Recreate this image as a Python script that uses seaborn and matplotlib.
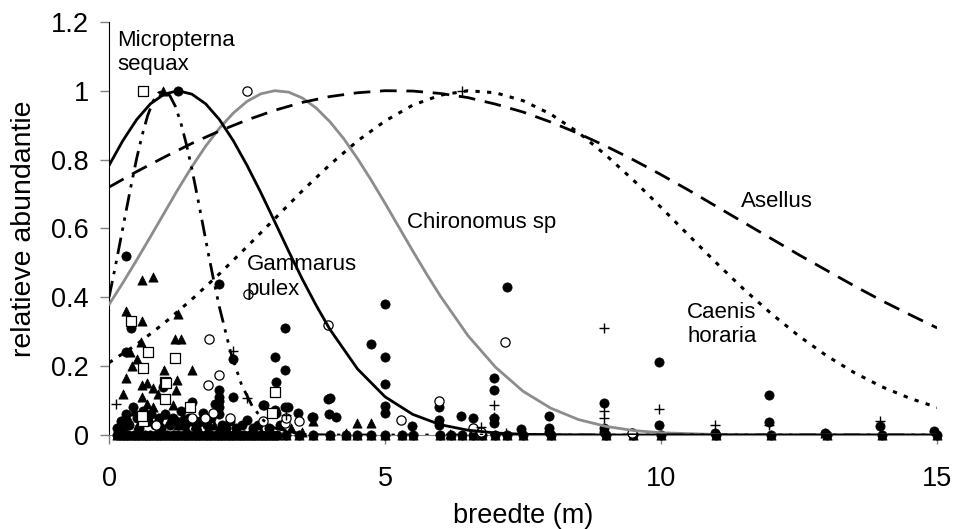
import matplotlib
matplotlib.use('Agg')
import matplotlib.pyplot as plt
import seaborn as sns

# curves (breedte in m, relatieve abundantie)
gammarus_x = [0, 0.25, 0.5, 0.75, 1.0, 1.25, 1.5, 1.75, 2.0, 2.25, 2.5, 2.75, 3.0, 3.25,
              3.5, 3.75, 4.0, 4.5, 5.0, 5.5, 6.0, 6.5, 7.0, 7.5, 8.0, 9.0, 10, 12, 15]
gammarus_y = [0.783, 0.855, 0.916, 0.962, 0.990, 1.0, 0.990, 0.962, 0.916, 0.855, 0.783,
              0.704, 0.620, 0.535, 0.453, 0.377, 0.307, 0.192, 0.111, 0.060, 0.030, 0.014,
              0.006, 0.002, 0.001, 0, 0, 0, 0]

chironomus_x = [0, 0.25, 0.5, 0.75, 1.0, 1.25, 1.5, 1.75, 2.0, 2.25, 2.5, 2.75, 3.0, 3.25,
                3.5, 3.75, 4.0, 4.25, 4.5, 4.75, 5.0, 5.25, 5.5, 5.75, 6.0, 6.5, 7.0, 7.5,
                8.0, 8.5, 9.0, 9.5, 10, 11, 12, 13, 15]
chironomus_y = [0.379, 0.442, 0.508, 0.576, 0.645, 0.714, 0.779, 0.839, 0.891, 0.935, 0.969,
                0.991, 1.0, 0.996, 0.979, 0.950, 0.910, 0.861, 0.803, 0.740, 0.673, 0.604,
                0.535, 0.468, 0.404, 0.289, 0.197, 0.127, 0.078, 0.045, 0.025, 0.013,
                0.0065, 0.0014, 0.0002, 0, 0]

asellus_x = [0, 0.5, 1, 1.5, 2, 2.5, 3, 3.5, 4, 4.5, 5, 5.5, 6, 6.5, 7, 7.5, 8, 8.5, 9,
             9.5, 10, 10.5, 11, 11.5, 12, 12.5, 13, 13.5, 14, 14.5, 15]
asellus_y = [0.720, 0.765, 0.807, 0.847, 0.883, 0.915, 0.943, 0.966, 0.983, 0.994, 1.0,
             0.999, 0.992, 0.980, 0.961, 0.938, 0.909, 0.876, 0.839, 0.799, 0.756, 0.711,
             0.664, 0.617, 0.570, 0.523, 0.478, 0.433, 0.390, 0.350, 0.311]

caenis_x = [0, 0.5, 1, 1.5, 2, 2.5, 3, 3.5, 4, 4.5, 5, 5.5, 6, 6.5, 7, 7.5, 8, 8.5, 9,
            9.5, 10, 10.5, 11, 11.5, 12, 12.5, 13, 13.5, 14, 14.5, 15]
caenis_y = [0.210, 0.263, 0.325, 0.394, 0.468, 0.547, 0.628, 0.709, 0.785, 0.854, 0.912,
            0.958, 0.987, 1.0, 0.994, 0.971, 0.932, 0.879, 0.813, 0.740, 0.661, 0.580,
            0.500, 0.423, 0.352, 0.287, 0.230, 0.181, 0.140, 0.107, 0.080]

micropterna_x = [0, 0.1, 0.2, 0.3, 0.4, 0.5, 0.6, 0.7, 0.8, 0.9, 1.0, 1.1, 1.2, 1.3, 1.4,
                 1.5, 1.6, 1.7, 1.8, 1.9, 2.0, 2.2, 2.4, 2.6, 2.8, 3.0, 3.5, 4.0, 5, 10, 15]
micropterna_y = [0.400, 0.478, 0.560, 0.643, 0.725, 0.803, 0.871, 0.928, 0.970, 0.994, 1.0,
                 0.986, 0.955, 0.907, 0.845, 0.773, 0.693, 0.610, 0.526, 0.446, 0.371,
                 0.242, 0.146, 0.082, 0.042, 0.020, 0.002, 0, 0, 0, 0]

# observations (filled circles)
gammarus_obs_x = [1.25, 0.30, 1.99, 0.40, 0.30, 2.25, 0.97, 2.25, 3.0, 3.18, 3.18, 3.03, 2.8,
                  3.0, 3.18, 3.96, 3.7, 4.99, 4.75, 4.99, 4.99, 4.0, 4.99, 4.99, 7.2, 6.98,
                  6.98, 6.98, 6.98, 5.98, 5.98, 5.98, 6.38, 6.59, 5.48, 7.47, 7.97, 7.97,
                  7.97, 8.97, 8.97, 8.97, 9.96, 9.96, 11.96, 11.96, 10.97, 13.96, 14.95,
                  12.97, 1.99, 1.99, 1.99, 1.99,
                  0.15, 0.22, 0.3, 0.36, 0.43, 0.5, 0.55, 0.62, 0.7, 0.76, 0.83, 0.9, 0.95,
                  1.02, 1.1, 1.15, 1.22, 1.3, 1.38, 1.45, 1.5, 1.58, 1.65, 1.7, 1.78, 1.85,
                  1.92, 1.99, 2.05, 2.12, 2.2, 2.3, 2.4, 2.49, 2.6, 2.7, 2.79, 2.9, 3.03,
                  3.1, 3.24, 3.42, 3.68, 3.98, 4.12]
gammarus_obs_y = [1.0, 0.52, 0.44, 0.31, 0.24, 0.22, 0.14, 0.11, 0.227, 0.31, 0.19, 0.153,
                  0.087, 0.073, 0.08, 0.105, 0.053, 0.38, 0.265, 0.227, 0.149, 0.108, 0.085,
                  0.065, 0.43, 0.165, 0.13, 0.05, 0.035, 0.08, 0.045, 0.03, 0.055, 0.05,
                  0.026, 0.016, 0.055, 0.02, 0.01, 0.094, 0.02, 0.01, 0.213, 0.03, 0.115,
                  0.039, 0.006, 0.025, 0.012, 0.005, 0.13, 0.1, 0.08, 0.06,
                  0.02, 0.04, 0.06, 0.03, 0.08, 0.05, 0.02, 0.07, 0.04, 0.06, 0.03, 0.05,
                  0.02, 0.06, 0.03, 0.05, 0.04, 0.07, 0.03, 0.05, 0.097, 0.02, 0.04, 0.064,
                  0.03, 0.05, 0.09, 0.11, 0.03, 0.02, 0.04, 0.02, 0.03, 0.044, 0.02, 0.03,
                  0.087, 0.02, 0.064, 0.03, 0.08, 0.064, 0.053, 0.06, 0.053]

# open circles
chironomus_obs_x = [2.5, 2.51, 1.81, 1.99, 1.79, 3.96, 3.18, 5.29, 5.98, 6.59, 6.74, 7.18,
                    9.48, 1.88, 1.74, 2.19, 2.79, 3.21, 3.44, 0.85, 1.5]
chironomus_obs_y = [1.0, 0.41, 0.28, 0.175, 0.146, 0.32, 0.035, 0.044, 0.1, 0.02, 0.008,
                    0.27, 0.005, 0.064, 0.05, 0.05, 0.04, 0.05, 0.04, 0.03, 0.05]

# open squares
asellus_obs_x = [0.61, 0.39, 0.70, 0.61, 1.19, 1.01, 1.01, 0.61, 1.46, 3.0, 2.96, 0.59, 1.04]
asellus_obs_y = [1.0, 0.33, 0.24, 0.195, 0.225, 0.155, 0.105, 0.04, 0.08, 0.126, 0.065,
                 0.056, 0.15]

# filled triangles
micropterna_obs_x = [0.98, 0.60, 0.80, 0.30, 0.6, 1.25, 1.19, 1.30, 0.38, 0.58, 0.5, 0.41,
                     1.0, 1.51, 0.30, 0.6, 0.69, 0.79, 0.89, 1.24, 1.21, 0.25, 0.6, 0.69,
                     0.26, 0.45, 0.8, 1.0, 1.16, 1.35, 1.6, 4.75, 4.49, 3.7, 4.29, 6.17,
                     12.97,
                     0.2, 0.28, 0.35, 0.52, 0.68, 0.75, 0.88, 0.95, 1.08, 1.25, 1.33, 1.4,
                     1.48, 1.55, 1.62, 1.7, 1.8, 1.9, 2.0, 2.1, 2.35, 2.55, 2.75, 2.95, 3.3,
                     3.5]
micropterna_obs_y = [1.0, 0.45, 0.46, 0.36, 0.33, 0.35, 0.28, 0.28, 0.24, 0.27, 0.22, 0.20,
                     0.19, 0.19, 0.167, 0.144, 0.15, 0.137, 0.12, 0.16, 0.13, 0.12, 0.11,
                     0.09, 0.05, 0.07, 0.08, 0.06, 0.087, 0.05, 0.04, 0.036, 0.035, 0.04,
                     0.005, 0.003, 0.005,
                     0.03, 0.02, 0.05, 0.03, 0.06, 0.04, 0.05, 0.03, 0.04, 0.03, 0.05, 0.02,
                     0.04, 0.03, 0.02, 0.04, 0.02, 0.03, 0.02, 0.02, 0.01, 0.01, 0.01, 0.01,
                     0.02, 0.01]

# plus signs
caenis_obs_x = [6.4, 0.12, 2.25, 2.5, 3.2, 6.98, 6.98, 6.74, 7.19, 8.97, 8.97, 8.97, 9.96,
                10.97, 11.96, 13.96]
caenis_obs_y = [1.0, 0.09, 0.243, 0.108, 0.058, 0.087, 0.053, 0.024, 0.007, 0.31, 0.07, 0.05,
                0.075, 0.03, 0.03, 0.04]

# sites where the species were (nearly) absent
nul_breedte = [0.15, 0.25, 0.35, 0.45, 0.55, 0.65, 0.75, 0.85, 0.95, 1.05, 1.15, 1.25, 1.35,
               1.45, 1.55, 1.65, 1.75, 1.85, 1.95, 2.05, 2.15, 2.25, 2.35, 2.45, 2.55, 2.65,
               2.75, 2.85, 2.95, 3.05, 3.2, 3.45, 3.7, 4.0, 4.3, 4.5, 4.75, 5.0, 5.3, 5.5,
               6.0, 6.2, 6.4, 6.6, 6.75, 7.0, 7.2, 7.5, 8.0, 9.0, 9.5, 10.0, 11.0, 12.0,
               13.0, 14.0, 15.0]

labels = ['Micropterna\nsequax', 'Gammarus\npulex', 'Chironomus sp', 'Asellus',
          'Caenis\nhoraria']
label_x = [0.15, 2.49, 5.39, 11.45, 10.47]
label_y = [1.11, 0.459, 0.618, 0.679, 0.321]


def main():
    sns.set_style('white')
    plt.rcParams['font.family'] = ['Liberation Sans', 'DejaVu Sans']
    plt.rcParams['text.color'] = 'black'
    plt.rcParams['axes.labelcolor'] = 'black'
    plt.rcParams['xtick.labelcolor'] = 'black'
    plt.rcParams['ytick.labelcolor'] = 'black'
    fig = plt.figure(figsize=(9.54, 5.29), dpi=100)
    ax = fig.add_axes([0.1143, 0.1777, 0.868, 0.781])

    pts = dict(ax=ax, s=44, clip_on=False, zorder=3, legend=False)
    zeros = [0] * len(nul_breedte)
    sns.scatterplot(x=nul_breedte, y=zeros, marker='o', color='black', edgecolor='black', **pts)
    sns.scatterplot(x=nul_breedte, y=zeros, marker='^', color='black', edgecolor='black', **pts)
    sns.scatterplot(x=gammarus_obs_x, y=gammarus_obs_y, marker='o', color='black',
                    edgecolor='black', **pts)
    sns.scatterplot(x=micropterna_obs_x, y=micropterna_obs_y, marker='^', color='black',
                    edgecolor='black', **pts)
    sns.scatterplot(x=chironomus_obs_x, y=chironomus_obs_y, marker='o', color='white',
                    edgecolor='black', linewidth=0.9, **pts)
    sns.scatterplot(x=asellus_obs_x, y=asellus_obs_y, marker='s', color='white',
                    edgecolor='black', linewidth=0.9, **pts)
    sns.scatterplot(x=caenis_obs_x, y=caenis_obs_y, marker='+', color='black',
                    linewidth=1.0, **pts)

    line = dict(ax=ax, errorbar=None, legend=False, zorder=4)
    sns.lineplot(x=chironomus_x, y=chironomus_y, color='#8c8c8c', linewidth=2.0, **line)
    sns.lineplot(x=asellus_x, y=asellus_y, color='black', linewidth=2.0,
                 linestyle=(0, (6, 3.5)), **line)
    sns.lineplot(x=caenis_x, y=caenis_y, color='black', linewidth=2.2,
                 linestyle=(0, (1.4, 2.4)), **line)
    sns.lineplot(x=micropterna_x, y=micropterna_y, color='black', linewidth=2.0,
                 linestyle=(0, (6, 2.5, 1.2, 2.5, 1.2, 2.5)), **line)
    sns.lineplot(x=gammarus_x, y=gammarus_y, color='black', linewidth=2.0, **line)

    for t, x, y in zip(labels, label_x, label_y):
        ax.text(x, y, t, fontsize=16, ha='left', va='center', linespacing=1.2)

    ax.set_xlim(0, 15)
    ax.set_ylim(0, 1.2)
    ax.set_xticks([0, 5, 10, 15])
    ax.set_xticklabels(['0', '5', '10', '15'])
    ax.set_yticks([0, 0.2, 0.4, 0.6, 0.8, 1.0, 1.2])
    ax.set_yticklabels(['0', '0.2', '0.4', '0.6', '0.8', '1', '1.2'])
    ax.tick_params(axis='both', labelsize=19.5, length=6.5, width=1.0, color='#808080',
                   left=True, bottom=True, direction='out')
    ax.tick_params(axis='y', pad=8)
    ax.tick_params(axis='x', pad=16)
    sns.despine(ax=ax)
    ax.spines['left'].set_color('black')
    ax.spines['bottom'].set_color('#808080')
    ax.set_xlabel('breedte (m)', fontsize=19.5, labelpad=8)
    ax.set_ylabel('relatieve abundantie', fontsize=20.5, labelpad=10)

    fig.savefig('out.png', dpi=100)


if __name__ == '__main__':
    main()
